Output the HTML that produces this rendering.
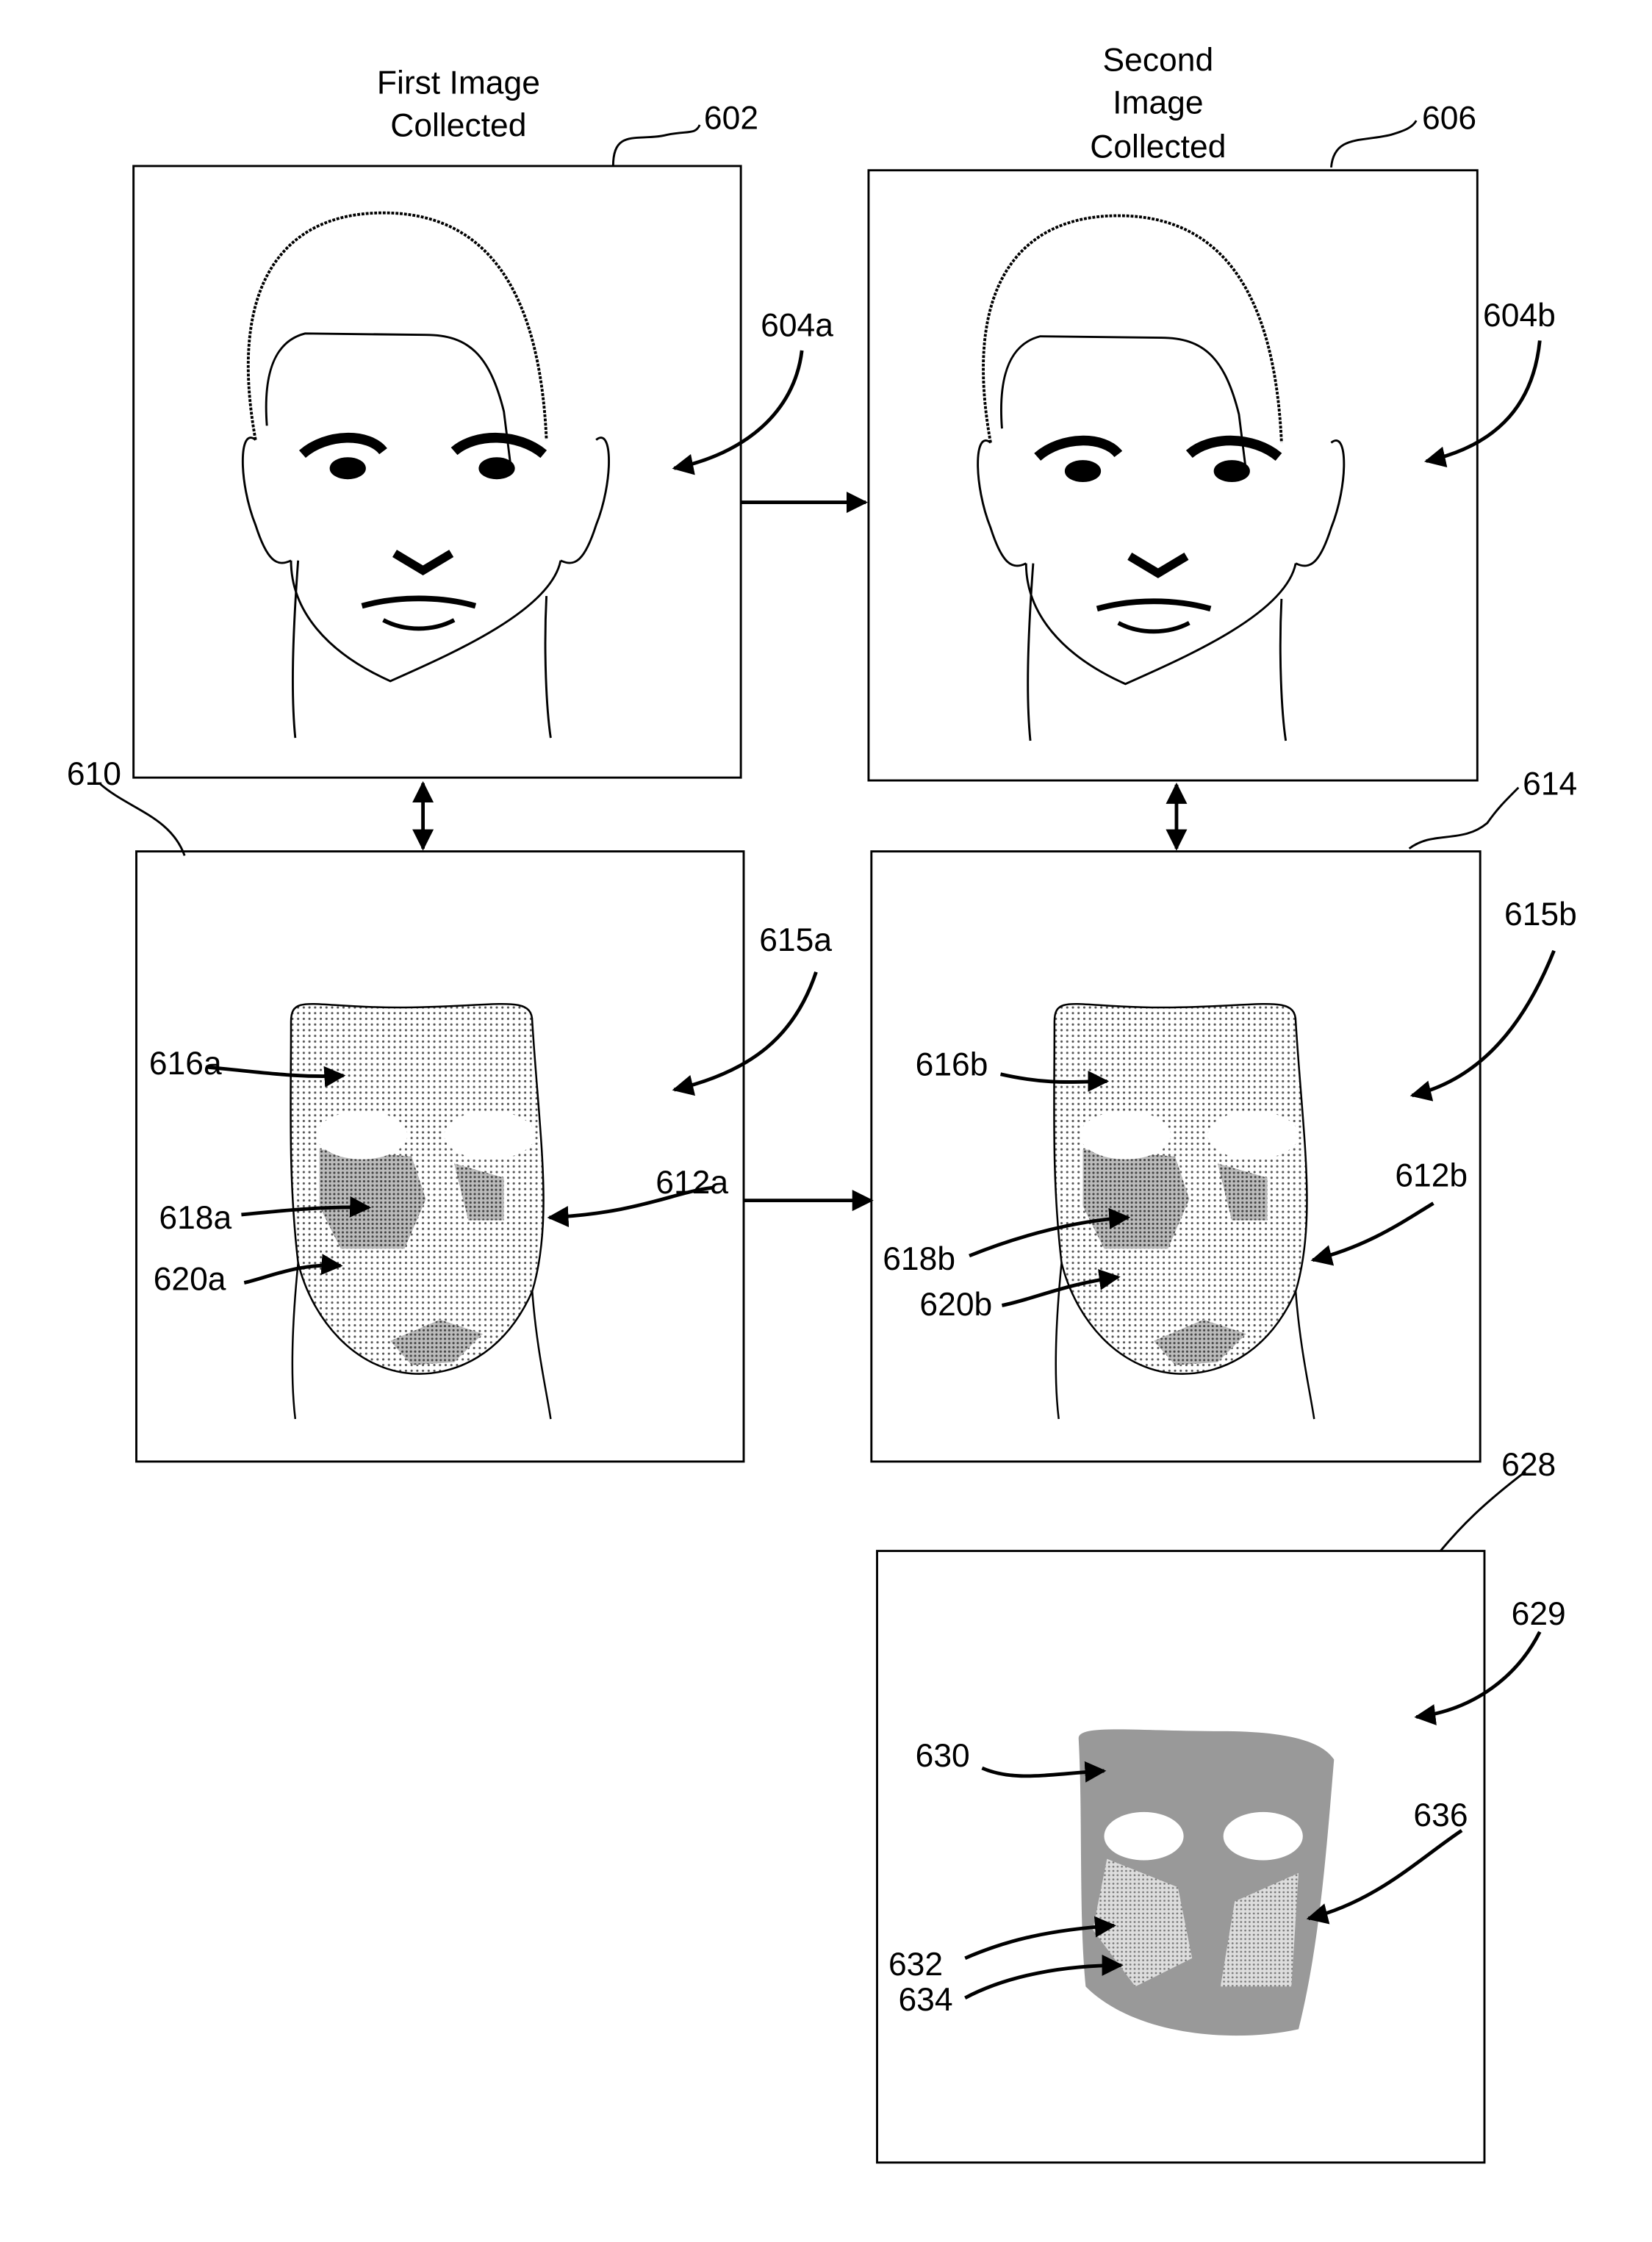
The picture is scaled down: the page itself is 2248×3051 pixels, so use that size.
<!DOCTYPE html>
<html><head><style>html,body{margin:0;padding:0;background:#fff}svg{display:block}</style></head>
<body>
<svg width="2248" height="3051" viewBox="0 0 1164 1580" xmlns="http://www.w3.org/2000/svg" font-family="Liberation Sans, sans-serif" font-size="23">
<defs>
<marker id="a" viewBox="0 0 10 10" refX="9" refY="5" markerWidth="6" markerHeight="6" orient="auto-start-reverse"><path d="M0,0L10,5L0,10z" fill="#000"/></marker>
<pattern id="dots" width="4" height="4" patternUnits="userSpaceOnUse"><rect width="4" height="4" fill="#fff"/><circle cx="2" cy="2" r="0.8" fill="#555"/></pattern>
<pattern id="dots2" width="3" height="3" patternUnits="userSpaceOnUse"><rect width="3" height="3" fill="#bbb"/><circle cx="1.5" cy="1.5" r="0.8" fill="#444"/></pattern>
<pattern id="dots3" width="3" height="3" patternUnits="userSpaceOnUse"><rect width="3" height="3" fill="#ddd"/><circle cx="1.5" cy="1.5" r="0.7" fill="#777"/></pattern>
<g id="head" fill="none" stroke="#000" stroke-width="1.5">
<path d="M180,310 C160,200 200,150 270,150 C340,150 380,200 385,310" stroke-dasharray="2 1" stroke-width="2"/>
<path d="M188,300 C185,260 195,240 215,235 L300,236 C330,236 345,250 355,290 L360,330"/>
<path d="M180,310 C168,300 168,340 180,370 C188,395 195,400 205,395"/>
<path d="M420,310 C432,300 432,340 420,370 C412,395 405,400 395,395"/>
<path d="M205,395 C205,430 230,460 275,480 C320,460 388,430 395,395"/>
<path d="M210,395 C206,450 205,490 208,520"/>
<path d="M385,420 C383,460 385,500 388,520"/>
<path d="M213,320 C230,305 260,305 270,318" stroke-width="7"/>
<path d="M320,318 C335,305 365,305 383,320" stroke-width="7"/>
<ellipse cx="245" cy="330" rx="12" ry="7" fill="#000"/>
<ellipse cx="350" cy="330" rx="12" ry="7" fill="#000"/>
<path d="M278,390 L298,402 L318,390" stroke-width="6"/>
<path d="M255,427 C280,420 310,420 335,427" stroke-width="4"/>
<path d="M270,437 C285,445 305,445 320,437" stroke-width="3"/>
</g>
<g id="mask">
<path d="M205,720 C205,700 220,710 280,710 C350,710 375,700 375,720 C380,800 390,860 375,910 C355,955 320,970 290,968 C250,965 220,930 210,890 C203,830 205,780 205,720Z" fill="url(#dots)" stroke="#000" stroke-width="1.3"/>
<path d="M210,890 C205,940 205,975 208,1000 M375,910 C378,950 385,980 388,1000" fill="none" stroke="#000" stroke-width="1.3"/>
<path d="M225,810 L290,815 L300,845 L285,880 L240,880 L225,850Z M320,820 L355,830 L355,860 L330,860Z M275,945 L310,930 L340,940 L320,960 L290,962Z" fill="url(#dots2)"/>
<ellipse cx="255" cy="800" rx="32" ry="17" fill="#fff"/>
<ellipse cx="345" cy="800" rx="32" ry="17" fill="#fff"/>
</g>
</defs>
<g fill="none" stroke="#000" stroke-width="1.5">
<rect x="94" y="117" width="428" height="431"/>
<rect x="612" y="120" width="429" height="430"/>
<rect x="96" y="600" width="428" height="430"/>
<rect x="614" y="600" width="429" height="430"/>
<rect x="618" y="1093" width="428" height="431"/>
<path d="M432,117 C432,90 450,100 470,95 C485,92 490,95 493,88"/>
<path d="M938,118 C940,95 960,100 980,95 C990,92 995,90 998,85"/>
<path d="M130,603 C120,575 90,570 70,552"/>
<path d="M993,598 C1010,585 1030,595 1048,580 C1055,570 1060,565 1070,555"/>
<path d="M1015,1093 C1030,1075 1045,1060 1075,1037"/>
</g>
<use href="#head"/>
<use href="#head" transform="translate(518,2)"/>
<use href="#mask"/>
<use href="#mask" transform="translate(538,0)"/>
<path d="M760,1225 C760,1215 800,1220 860,1220 C900,1220 930,1225 940,1240 C935,1300 930,1370 915,1430 C870,1440 800,1435 765,1400 C760,1350 763,1280 760,1225Z" fill="#999"/>
<path d="M780,1310 L830,1330 L840,1380 L800,1400 L770,1360Z M870,1340 L915,1320 L910,1400 L860,1400Z" fill="url(#dots3)"/>
<ellipse cx="806" cy="1294" rx="28" ry="17" fill="#fff"/>
<ellipse cx="890" cy="1294" rx="28" ry="17" fill="#fff"/>
<g fill="none" stroke="#000" stroke-width="2.5" marker-end="url(#a)">
<path d="M522,354 L610,354"/>
<path d="M524,846 L614,846"/>
<path d="M298,552 L298,598" marker-start="url(#a)"/>
<path d="M829,553 L829,598" marker-start="url(#a)"/>
<path d="M565,247 C560,290 525,320 475,330"/>
<path d="M1085,240 C1080,290 1050,315 1005,325"/>
<path d="M575,685 C560,730 530,755 475,768"/>
<path d="M1095,670 C1075,720 1045,760 995,772"/>
<path d="M1085,1150 C1070,1180 1040,1205 998,1210"/>
<path d="M1030,1290 C1000,1310 970,1340 922,1352"/>
<path d="M145,752 C180,755 210,760 242,758"/>
<path d="M502,837 C475,840 450,855 387,858"/>
<path d="M1010,848 C990,860 965,878 925,888"/>
<path d="M170,856 C200,853 230,850 260,851"/>
<path d="M172,904 C190,900 210,890 240,892"/>
<path d="M705,757 C740,765 760,762 780,762"/>
<path d="M683,885 C720,870 760,860 795,858"/>
<path d="M706,920 C730,915 750,905 788,900"/>
<path d="M692,1246 C715,1256 740,1250 778,1248"/>
<path d="M680,1380 C710,1367 740,1360 785,1357"/>
<path d="M680,1408 C710,1392 750,1385 790,1385"/>
</g>
<g fill="#000">
<text x="323" y="66" text-anchor="middle">First Image</text>
<text x="323" y="96" text-anchor="middle">Collected</text>
<text x="816" y="50" text-anchor="middle">Second</text>
<text x="816" y="80" text-anchor="middle">Image</text>
<text x="816" y="111" text-anchor="middle">Collected</text>
<text x="496" y="91">602</text>
<text x="1002" y="91">606</text>
<text x="536" y="237">604a</text>
<text x="1045" y="230">604b</text>
<text x="47" y="553">610</text>
<text x="1073" y="560">614</text>
<text x="535" y="670">615a</text>
<text x="1060" y="652">615b</text>
<text x="105" y="757">616a</text>
<text x="645" y="758">616b</text>
<text x="462" y="841">612a</text>
<text x="983" y="836">612b</text>
<text x="112" y="866">618a</text>
<text x="622" y="895">618b</text>
<text x="108" y="909">620a</text>
<text x="648" y="927">620b</text>
<text x="1058" y="1040">628</text>
<text x="1065" y="1145">629</text>
<text x="645" y="1245">630</text>
<text x="996" y="1287">636</text>
<text x="626" y="1392">632</text>
<text x="633" y="1417">634</text>
</g>
</svg>
</body></html>
